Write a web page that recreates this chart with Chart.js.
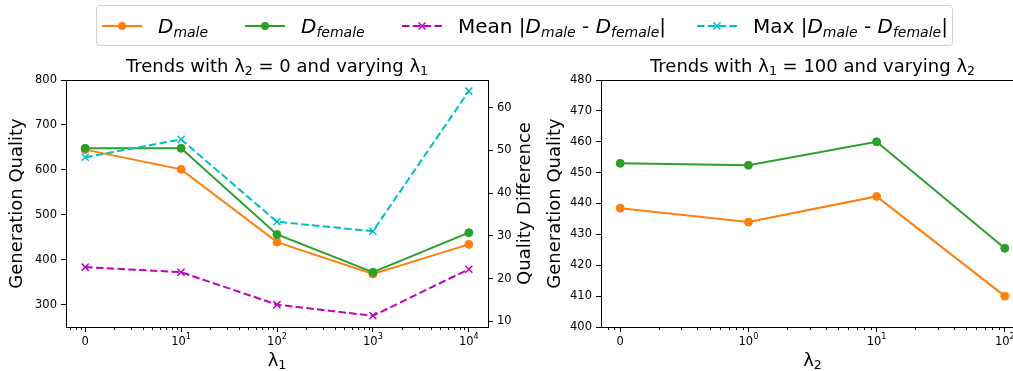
<!DOCTYPE html>
<html><head><meta charset="utf-8">
<script src="https://cdn.jsdelivr.net/npm/chart.js@4.4.0/dist/chart.umd.min.js"></script>
<style>
html,body{margin:0;padding:0;width:1013px;height:371px;overflow:hidden;background:#fff;font-family:'DejaVu Sans',sans-serif;}
#c1{position:absolute;left:0;top:0;}
#c2{position:absolute;left:540px;top:0;}
#legend{position:absolute;left:96px;top:5px;width:857px;height:41px;box-sizing:border-box;border:1px solid #cfcfcf;border-radius:4px;background:#fff;font-size:20px;color:#000;z-index:2;}
.it{position:absolute;top:0;height:39px;display:flex;align-items:center;white-space:nowrap;}
.it svg{display:block;margin-right:16px;}
.lbl i{font-style:italic;}
.lbl sub{font-size:0.7em;font-style:italic;vertical-align:-0.28em;line-height:0;}
</style>
</head><body>
<div id="legend">
  <div class="it" style="left:5px"><svg width="40" height="20"><line x1="0" y1="10" x2="40" y2="10" stroke="#ff7f0e" stroke-width="2"/><circle cx="20" cy="10" r="4" fill="#ff7f0e"/></svg><span class="lbl"><i>D</i><sub>male</sub></span></div>
  <div class="it" style="left:148px"><svg width="40" height="20"><line x1="0" y1="10" x2="40" y2="10" stroke="#2ca02c" stroke-width="2"/><circle cx="20" cy="10" r="4" fill="#2ca02c"/></svg><span class="lbl"><i>D</i><sub>female</sub></span></div>
  <div class="it" style="left:305px"><svg width="40" height="20"><line x1="0" y1="10" x2="40" y2="10" stroke="#bf00bf" stroke-width="2" stroke-dasharray="7.5 3.3"/><line x1="16.5" y1="6.5" x2="23.5" y2="13.5" stroke="#bf00bf" stroke-width="1.5"/><line x1="16.5" y1="13.5" x2="23.5" y2="6.5" stroke="#bf00bf" stroke-width="1.5"/></svg><span class="lbl">Mean |<i>D</i><sub>male</sub> - <i>D</i><sub>female</sub>|</span></div>
  <div class="it" style="left:600px"><svg width="40" height="20"><line x1="0" y1="10" x2="40" y2="10" stroke="#00bfbf" stroke-width="2" stroke-dasharray="7.5 3.3"/><line x1="16.5" y1="6.5" x2="23.5" y2="13.5" stroke="#00bfbf" stroke-width="1.5"/><line x1="16.5" y1="13.5" x2="23.5" y2="6.5" stroke="#00bfbf" stroke-width="1.5"/></svg><span class="lbl">Max |<i>D</i><sub>male</sub> - <i>D</i><sub>female</sub>|</span></div>
</div>
<canvas id="c1" width="540" height="371"></canvas>
<canvas id="c2" width="489" height="371"></canvas>
<script>
// ---- data ----
const lambda1 = [0, 10, 100, 1000, 10000];
const dMaleL1 = [645, 601, 439, 368, 434];
const dFemaleL1 = [648, 648, 456, 372, 460];
const meanDiffL1 = [22.7, 21.5, 13.9, 11.3, 22.2];
const maxDiffL1 = [48.4, 52.6, 33.3, 31.1, 63.9];

const lambda2 = [0, 1, 10, 100];
const dMaleL2 = [438.5, 434.0, 442.3, 410.0];
const dFemaleL2 = [453.0, 452.4, 460.0, 425.5];

// tick labels: base text and superscript exponent
const xTicksL1 = [0, 10, 100, 1000, 10000];
const xTickBaseL1 = ['0', '10', '10', '10', '10'];
const xTickExpL1 = ['', '1', '2', '3', '4'];
const xTicksL2 = [0, 1, 10, 100];
const xTickBaseL2 = ['0', '10', '10', '10'];
const xTickExpL2 = ['', '0', '1', '2'];
const yTicksLeft = [300, 400, 500, 600, 700, 800];
const yTicksDiff = [10, 20, 30, 40, 50, 60];
const yTicksRight = [400, 410, 420, 430, 440, 450, 460, 470, 480];

// titles as [text, kind] runs (kind: n = normal, sub = subscript)
const titleL1 = [['Trends with λ', 'n'], ['2', 'sub'], [' = 0 and varying λ', 'n'], ['1', 'sub']];
const titleL2 = [['Trends with λ', 'n'], ['1', 'sub'], [' = 100 and varying λ', 'n'], ['2', 'sub']];
const xTitleL1 = [['λ', 'n'], ['1', 'sub']];
const xTitleL2 = [['λ', 'n'], ['2', 'sub']];

// ---- helpers ----
const C = {orange:'#ff7f0e', green:'#2ca02c', mag:'#bf00bf', cyan:'#00bfbf'};
Chart.defaults.font.family = "'DejaVu Sans'";
Chart.defaults.color = '#000';
const symlog = (v, c) => v < c ? v / c : 1 + Math.log10(v / c);
const pts = (xs, ys, c) => xs.map((l, i) => ({x: symlog(l, c), y: ys[i]}));

const lineDs = (label, data, color, axis) => ({label, data, borderColor: color, backgroundColor: color,
  borderWidth: 2, pointRadius: 4, pointBackgroundColor: color, pointBorderColor: color, pointBorderWidth: 1,
  tension: 0, yAxisID: axis});
const dashDs = (label, data, color, axis) => ({label, data, borderColor: color, backgroundColor: color,
  borderWidth: 2, borderDash: [7.5, 3.3], pointStyle: 'crossRot', pointRadius: 5, pointBorderWidth: 1.5,
  pointBorderColor: color, tension: 0, yAxisID: axis});

const tickFont = {size: 11.5};
const tickGrid = {display: true, drawOnChartArea: false, drawTicks: true, tickLength: 5, color: '#000', lineWidth: 1};

function drawRich(ctx, segs, x, y, size, align) {
  const f = k => `${k === 'n' ? size : size * 0.7}px 'DejaVu Sans'`;
  const w = segs.map(([t, k]) => { ctx.font = f(k); return ctx.measureText(t).width; });
  const total = w.reduce((a, b) => a + b, 0);
  let cx = align === 'center' ? x - total / 2 : x;
  ctx.textAlign = 'left'; ctx.textBaseline = 'alphabetic'; ctx.fillStyle = '#000';
  segs.forEach(([t, k], i) => {
    ctx.font = f(k);
    const dy = k === 'sub' ? size * 0.2 : k === 'sup' ? -size * 0.5 : 0;
    ctx.fillText(t, cx, y + dy);
    cx += w[i];
  });
}

const framePlugin = {
  id: 'frame',
  afterDraw(chart, args, o) {
    const {ctx, chartArea: a} = chart;
    const xs = chart.scales.x;
    ctx.save();
    ctx.strokeStyle = '#000'; ctx.lineWidth = 1;
    ctx.beginPath();
    for (let k = -1; k <= 5; k++) for (let m = 2; m <= 9; m++) {
      const p = k + Math.log10(m);
      if (p < xs.min || p > xs.max) continue;
      const px = Math.round(xs.getPixelForValue(p)) + 0.5;
      ctx.moveTo(px, a.bottom); ctx.lineTo(px, a.bottom + 3);
    }
    ctx.stroke();
    ctx.strokeRect(Math.round(a.left) + 0.5, Math.round(a.top) + 0.5, Math.round(a.right - a.left), Math.round(a.bottom - a.top));
    const cxm = (a.left + a.right) / 2;
    drawRich(ctx, o.title, cxm, 71.7, 18, 'center');
    o.ticks.forEach((v, i) => {
      const px = xs.getPixelForValue(symlog(v, o.c));
      const segs = [[o.base[i], 'n']];
      if (o.exp[i]) segs.push([o.exp[i], 'sup']);
      drawRich(ctx, segs, px, 345, 11.5, 'center');
    });
    drawRich(ctx, o.xTitle, cxm, 365.5, 18, 'center');
    if (o.rightTitle) {
      ctx.translate(o.rightTitleX, (a.top + a.bottom) / 2);
      ctx.rotate(-Math.PI / 2);
      ctx.font = "18px 'DejaVu Sans'"; ctx.fillStyle = '#000';
      ctx.textAlign = 'center'; ctx.textBaseline = 'middle';
      ctx.fillText(o.rightTitle, 0, 0);
    }
    ctx.restore();
  }
};

const xScale = (min, max, ticks, c, h) => ({
  type: 'linear', min, max,
  afterBuildTicks: s => { s.ticks = ticks.map(v => ({value: symlog(v, c)})); },
  afterFit: s => { s.height = h; },
  ticks: {display: false, autoSkip: false, maxRotation: 0},
  grid: tickGrid, border: {display: false},
  title: {display: false}
});
const yScale = (pos, min, max, ticks, w, title, pad) => ({
  type: 'linear', position: pos, min, max,
  afterBuildTicks: s => { s.ticks = ticks.map(v => ({value: v})); },
  afterFit: s => { s.width = w; },
  ticks: {font: tickFont, color: '#000', padding: 4, autoSkip: false},
  grid: tickGrid, border: {display: false},
  title: title ? {display: true, text: title, font: {size: 18}, color: '#000', padding: {top: pad, bottom: 0}} : {display: false}
});

const common = () => ({
  responsive: false, animation: false, events: [],
  layout: {padding: {top: 80, left: 0, right: 0, bottom: 0}},
  plugins: {legend: {display: false}, tooltip: {enabled: false}, title: {display: false}}
});

// ---- left chart ----
const o1 = common();
o1.plugins.frame = {title: titleL1, xTitle: xTitleL1, ticks: xTicksL1, base: xTickBaseL1, exp: xTickExpL1, c: 10,
  rightTitle: 'Quality Difference', rightTitleX: 525};
o1.scales = {
  x: xScale(-0.2, 4.2, xTicksL1, 10, 44),
  y: yScale('left', 250, 800, yTicksLeft, 66, 'Generation Quality', 7),
  y2: yScale('right', 8.67, 66.5, yTicksDiff, 52, null, 0)
};
new Chart(document.getElementById('c1'), {
  type: 'line',
  data: {datasets: [
    dashDs('Max |D_male - D_female|', pts(lambda1, maxDiffL1, 10), C.cyan, 'y2'),
    dashDs('Mean |D_male - D_female|', pts(lambda1, meanDiffL1, 10), C.mag, 'y2'),
    lineDs('D_female', pts(lambda1, dFemaleL1, 10), C.green, 'y'),
    lineDs('D_male', pts(lambda1, dMaleL1, 10), C.orange, 'y')
  ]},
  options: o1,
  plugins: [framePlugin]
});

// ---- right chart ----
const o2 = common();
o2.plugins.frame = {title: titleL2, xTitle: xTitleL2, ticks: xTicksL2, base: xTickBaseL2, exp: xTickExpL2, c: 1};
o2.scales = {
  x: xScale(-0.15, 3.15, xTicksL2, 1, 44),
  y: yScale('left', 400, 480, yTicksRight, 61, 'Generation Quality', 4.2)
};
new Chart(document.getElementById('c2'), {
  type: 'line',
  data: {datasets: [
    lineDs('D_female', pts(lambda2, dFemaleL2, 1), C.green, 'y'),
    lineDs('D_male', pts(lambda2, dMaleL2, 1), C.orange, 'y')
  ]},
  options: o2,
  plugins: [framePlugin]
});
</script>
</body></html>
